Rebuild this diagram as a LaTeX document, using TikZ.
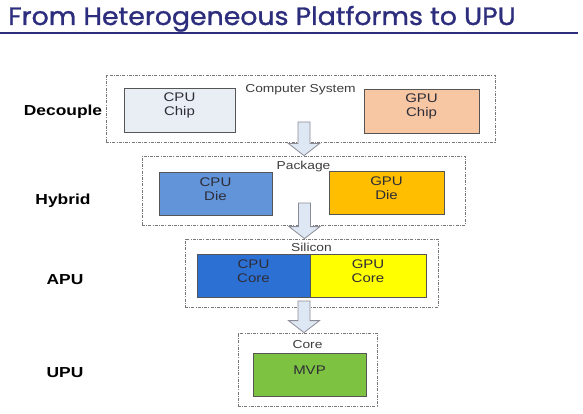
\documentclass[tikz,border=0pt]{standalone}
\usepackage{fontspec}
\setmainfont{Liberation Sans}[FakeStretch=1.2]
\newfontfamily\titlefont{Poppins}[FakeStretch=1.07, FakeBold=1.2]
\usepackage{xcolor}
\usepackage{tikz}
\usetikzlibrary{positioning,fit,calc}

\definecolor{titleblue}{RGB}{45,45,125}
\definecolor{chipline}{RGB}{85,85,85}
\definecolor{frameline}{RGB}{120,120,120}
\definecolor{labelgray}{RGB}{60,60,60}
\definecolor{chiptext}{RGB}{45,45,55}
\definecolor{arrline}{RGB}{140,140,150}
\definecolor{arrfill}{RGB}{222,232,245}
\definecolor{cpuchipc}{RGB}{233,237,244}
\definecolor{gpuchipc}{RGB}{247,198,163}
\definecolor{cpudiec}{RGB}{98,148,218}
\definecolor{gpudiec}{RGB}{255,190,0}
\definecolor{cpucorec}{RGB}{45,112,212}
\definecolor{gpucorec}{RGB}{255,255,0}
\definecolor{mvpc}{RGB}{125,195,65}

% block arrow from a start point down to a tip point
\newcommand{\blockarrow}[2]{%
  \draw[blk] ($(#1)+(-6,0)$) -- ($(#2)+(-6,-12)$) -- ($(#2)+(-15.5,-12)$) -- (#2)
    -- ($(#2)+(15.5,-12)$) -- ($(#2)+(6,-12)$) -- ($(#1)+(6,0)$) -- cycle;}

\begin{document}
\begin{tikzpicture}[x=1pt, y=-1pt,
  chip/.style={draw=chipline, line width=0.9pt, inner sep=0pt, align=center, text=chiptext, font=\fontsize{12.5}{13.5}\selectfont},
  frame/.style={draw=frameline, line width=0.8pt, dash pattern=on 3pt off 1.2pt on 1pt off 1.2pt, inner sep=0pt},
  ftag/.style={inner sep=0pt, font=\fontsize{11.5}{13}\selectfont, text=labelgray},
  lvl/.style={font=\bfseries\fontsize{14.5}{16}\selectfont},
  blk/.style={draw=arrline, fill=arrfill, line width=0.8pt}
]
\useasboundingbox (0,0) rectangle (583,414);

% title
\node[anchor=base west, inner sep=0pt, text=titleblue, font=\titlefont\fontsize{25}{29}\selectfont] (title) at (8,25) {From Heterogeneous Platforms to UPU};
\draw[titleblue, line width=2pt] (0,33) -- (578,33);

% levels
\node[lvl] (decouple) at (63,112) {Decouple};
\node[lvl] (hybrid) at (63,201) {Hybrid};
\node[lvl] (apu) at (65,280) {APU};
\node[lvl] (upu) at (65,373) {UPU};

% computer system
\node[frame, fit={(106,75) (495,142)}] (sys) {};
\node[ftag, below=10pt of sys.north] (systag) {Computer System};
\node[chip, fill=cpuchipc, fit={(124,88) (235,132)}] (cpuchip) {CPU\\Chip};
\node[chip, fill=gpuchipc, fit={(364,89) (479,133)}] (gpuchip) {GPU\\Chip};

% package
\node[frame, fit={(142,156) (465,225)}] (pkg) {};
\node[ftag, below=5pt of pkg.north] (pkgtag) {Package};
\node[chip, fill=cpudiec, fit={(159,172) (272,215)}] (cpudie) {CPU\\Die};
\node[chip, fill=gpudiec, fit={(329,171) (444,214)}] (gpudie) {GPU\\Die};

% silicon
\node[frame, fit={(185,239) (438,307)}] (sil) {};
\node[ftag, below=4pt of sil.north] (siltag) {Silicon};
\node[chip, fill=cpucorec, fit={(197,254) (310,297)}] (cpucore) {CPU\\Core};
\node[chip, fill=gpucorec, fit={(310,254) (426,297)}] (gpucore) {GPU\\Core};

% core
\node[frame, fit={(238,333) (377,406)}] (core) {};
\node[ftag, below=8pt of core.north] (coretag) {Core};
\node[chip, fill=mvpc, fit={(253,353) (366,396)}] (mvp) {MVP};

% arrows
\coordinate (s1) at (304,122);
\coordinate (s2) at (304.5,203);
\coordinate (s3) at (304,301);
\blockarrow{s1}{s1 |- pkg.north}
\blockarrow{s2}{s2 |- sil.north}
\blockarrow{s3}{s3 |- core.north}
\end{tikzpicture}
\end{document}
